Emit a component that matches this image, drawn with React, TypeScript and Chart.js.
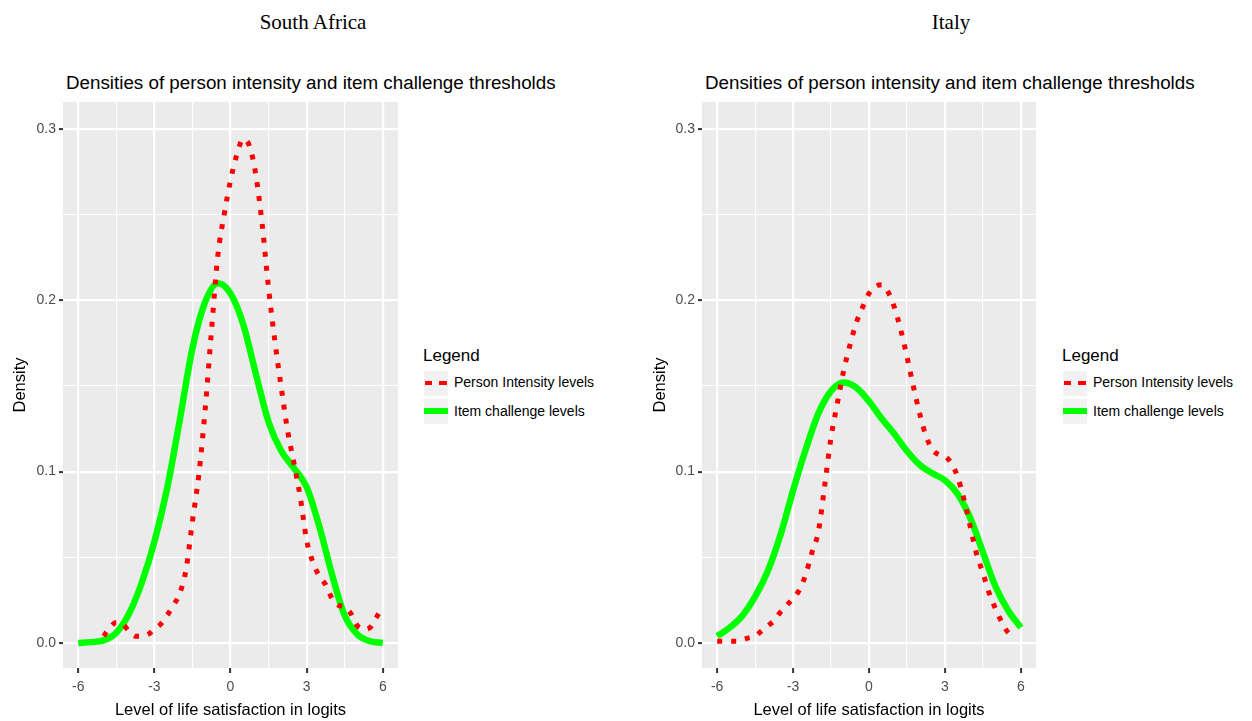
import React, { useEffect, useRef } from "react";
import { Chart, registerables } from "chart.js";

Chart.register(...registerables);

// ---------- data ----------
const xTickValues = [-6, -4.5, -3, -1.5, 0, 1.5, 3, 4.5, 6];
const yTickValues = [0, 0.05, 0.1, 0.15, 0.2, 0.25, 0.3];

const countryTitles = ["South Africa", "Italy"];
const panelTitle = "Densities of person intensity and item challenge thresholds";
const xAxisTitle = "Level of life satisfaction in logits";
const yAxisTitle = "Density";
const legendTitle = "Legend";
const seriesNames = ["Person Intensity levels", "Item challenge levels"];

// South Africa
const saItemX = [-6, -5.5, -5, -4.5, -4, -3.5, -3, -2.5, -2, -1.5, -1, -0.5, 0, 0.5, 1, 1.5, 2, 2.5, 3, 3.5, 4, 4.5, 5, 5.5, 6];
const saItemY = [0, 0.0005, 0.0015, 0.006, 0.017, 0.035, 0.059, 0.09, 0.13, 0.172, 0.199, 0.21, 0.204, 0.186, 0.157, 0.129, 0.112, 0.102, 0.091, 0.068, 0.04, 0.016, 0.005, 0.001, 0];

const saPersonX = [-5, -4.75, -4.5, -4.25, -4, -3.75, -3.5, -3.25, -3, -2.75, -2.5, -2.25, -2, -1.75, -1.5, -1.25, -1, -0.75, -0.5, -0.25, 0, 0.25, 0.5, 0.75, 1, 1.25, 1.5, 1.75, 2, 2.25, 2.5, 2.75, 3, 3.25, 3.5, 3.75, 4, 4.25, 4.5, 4.75, 5, 5.25, 5.5, 5.75, 6];
const saPersonY = [0.004, 0.009, 0.012, 0.011, 0.007, 0.004, 0.004, 0.005, 0.008, 0.011, 0.016, 0.022, 0.029, 0.043, 0.071, 0.098, 0.136, 0.182, 0.226, 0.25, 0.27, 0.285, 0.294, 0.29, 0.273, 0.244, 0.207, 0.176, 0.149, 0.124, 0.105, 0.085, 0.06, 0.047, 0.039, 0.034, 0.026, 0.022, 0.021, 0.017, 0.01, 0.008, 0.009, 0.015, 0.021];

// Italy
const itItemX = [-6, -5.5, -5, -4.5, -4, -3.5, -3, -2.5, -2, -1.5, -1, -0.5, 0, 0.5, 1, 1.5, 2, 2.5, 3, 3.5, 4, 4.5, 5, 5.5, 6];
const itItemY = [0.004, 0.009, 0.016, 0.027, 0.042, 0.063, 0.089, 0.113, 0.134, 0.147, 0.152, 0.149, 0.141, 0.131, 0.122, 0.112, 0.104, 0.099, 0.095, 0.087, 0.073, 0.053, 0.033, 0.019, 0.009];

const itPersonX = [-6, -5.75, -5.5, -5.25, -5, -4.75, -4.5, -4.25, -4, -3.75, -3.5, -3.25, -3, -2.75, -2.5, -2.25, -2, -1.75, -1.5, -1.25, -1, -0.75, -0.5, -0.25, 0, 0.25, 0.5, 0.75, 1, 1.25, 1.5, 1.75, 2, 2.25, 2.5, 2.75, 3, 3.25, 3.5, 3.75, 4, 4.25, 4.5, 4.75, 5, 5.25, 5.5, 5.75];
const itPersonY = [0.001, 0.001, 0.001, 0.001, 0.002, 0.003, 0.004, 0.007, 0.01, 0.013, 0.018, 0.022, 0.026, 0.031, 0.04, 0.053, 0.065, 0.092, 0.12, 0.14, 0.159, 0.174, 0.187, 0.196, 0.204, 0.208, 0.209, 0.205, 0.196, 0.183, 0.167, 0.15, 0.134, 0.121, 0.113, 0.11, 0.109, 0.105, 0.097, 0.084, 0.068, 0.052, 0.041, 0.029, 0.02, 0.012, 0.006, 0.003];

// ---------- styling ----------
const SANS = "'Liberation Sans', Arial, sans-serif";
const SERIF = "'Liberation Serif', 'Times New Roman', serif";
const RED = "#FF0000";
const GREEN = "#00FF00";
const PANEL_BG = "#EBEBEB";

const isMajorX = (v: number) => Math.abs(v / 3 - Math.round(v / 3)) < 1e-9;
const isMajorY = (v: number) => Math.abs(v * 10 - Math.round(v * 10)) < 1e-9;

const bgPlugin = {
  id: "panelBg",
  beforeDraw(chart: any) {
    const { ctx, chartArea } = chart;
    ctx.save();
    ctx.fillStyle = PANEL_BG;
    ctx.fillRect(chartArea.left, chartArea.top, chartArea.right - chartArea.left, chartArea.bottom - chartArea.top);
    ctx.restore();
  },
};

type PanelProps = {
  left: number;
  width: number;
  yAxisWidth: number;
  padRight: number;
  personX: number[];
  personY: number[];
  itemX: number[];
  itemY: number[];
};

function Panel(p: PanelProps) {
  const ref = useRef<HTMLCanvasElement | null>(null);
  useEffect(() => {
    if (!ref.current) return;
    const chart = new Chart(ref.current, {
      type: "line",
      data: {
        datasets: [
          {
            label: seriesNames[0],
            data: p.personX.map((x, i) => ({ x, y: p.personY[i] })),
            borderColor: RED,
            borderWidth: 5,
            borderDash: [5, 9],
            borderCapStyle: "butt",
            pointRadius: 0,
            fill: false,
            cubicInterpolationMode: "monotone",
          },
          {
            label: seriesNames[1],
            data: p.itemX.map((x, i) => ({ x, y: p.itemY[i] })),
            borderColor: GREEN,
            borderWidth: 6.5,
            pointRadius: 0,
            fill: false,
            cubicInterpolationMode: "monotone",
          },
        ],
      },
      options: {
        responsive: false,
        animation: false,
        events: [],
        layout: { padding: { top: 102, right: p.padRight, left: 0, bottom: 0 } },
        plugins: {
          legend: { display: false },
          title: { display: false },
          tooltip: { enabled: false },
        },
        scales: {
          x: {
            type: "linear",
            min: -6.6,
            max: 6.6,
            afterBuildTicks: (s: any) => {
              s.ticks = xTickValues.map((v) => ({ value: v }));
            },
            afterFit: (s: any) => {
              s.height = 53;
            },
            ticks: {
              autoSkip: false,
              maxRotation: 0,
              padding: 6,
              color: "#4D4D4D",
              font: { family: SANS, size: 14 },
              callback: (v: any) => (isMajorX(Number(v)) ? String(v) : ""),
            },
            grid: {
              color: "#FFFFFF",
              lineWidth: (c: any) => (c.tick && isMajorX(c.tick.value) ? 2.2 : 1.1),
              tickColor: (c: any) => (c.tick && isMajorX(c.tick.value) ? "#333333" : "rgba(0,0,0,0)"),
              tickLength: 5,
              tickWidth: 2,
            },
            border: { display: false },
            title: {
              display: true,
              text: xAxisTitle,
              color: "#000000",
              font: { family: SANS, size: 16.5 },
              padding: { top: 0, bottom: 1 },
            },
          },
          y: {
            type: "linear",
            min: -0.0146,
            max: 0.3157,
            afterBuildTicks: (s: any) => {
              s.ticks = yTickValues.map((v) => ({ value: v }));
            },
            afterFit: (s: any) => {
              s.width = p.yAxisWidth;
            },
            ticks: {
              autoSkip: false,
              padding: 3,
              color: "#4D4D4D",
              font: { family: SANS, size: 14 },
              callback: (v: any) => (isMajorY(Number(v)) ? Number(v).toFixed(1) : ""),
            },
            grid: {
              color: "#FFFFFF",
              lineWidth: (c: any) => (c.tick && isMajorY(c.tick.value) ? 2.2 : 1.1),
              tickColor: (c: any) => (c.tick && isMajorY(c.tick.value) ? "#333333" : "rgba(0,0,0,0)"),
              tickLength: 4,
              tickWidth: 2,
            },
            border: { display: false },
            title: {
              display: true,
              text: yAxisTitle,
              color: "#000000",
              font: { family: SANS, size: 16.5 },
              padding: { top: 11, bottom: 0 },
            },
          },
        },
      } as any,
      plugins: [bgPlugin],
    });
    return () => chart.destroy();
  }, []);
  return (
    <canvas
      ref={ref}
      width={p.width}
      height={721}
      style={{ position: "absolute", left: p.left, top: 0, width: p.width, height: 721 }}
    />
  );
}

function Legend({ left }: { left: number }) {
  const keyBox: React.CSSProperties = {
    position: "absolute",
    left: 0,
    width: 24,
    height: 25,
    background: "#F2F2F2",
  };
  const text: React.CSSProperties = {
    position: "absolute",
    left: 30,
    fontSize: 14,
    lineHeight: "18px",
    whiteSpace: "nowrap",
    color: "#000",
  };
  return (
    <div style={{ position: "absolute", left, top: 346, width: 200, height: 90, fontFamily: SANS }}>
      <div style={{ position: "absolute", left: -1, top: 0, fontSize: 17, lineHeight: "20px", whiteSpace: "nowrap" }}>
        {legendTitle}
      </div>
      <div style={{ ...keyBox, top: 25 }}>
        <div style={{ position: "absolute", left: 1, top: 10, width: 7, height: 4, background: RED }} />
        <div style={{ position: "absolute", left: 15, top: 10, width: 8, height: 4, background: RED }} />
      </div>
      <div style={{ ...text, top: 27 }}>{seriesNames[0]}</div>
      <div style={{ ...keyBox, top: 53 }}>
        <div style={{ position: "absolute", left: 0, top: 9, width: 24, height: 6, background: GREEN }} />
      </div>
      <div style={{ ...text, top: 56 }}>{seriesNames[1]}</div>
    </div>
  );
}

export default function App() {
  const headStyle: React.CSSProperties = {
    position: "absolute",
    top: 9,
    width: 300,
    textAlign: "center",
    fontFamily: SERIF,
    fontSize: 21,
    lineHeight: "26px",
    color: "#000",
  };
  const titleStyle: React.CSSProperties = {
    position: "absolute",
    top: 71,
    fontFamily: SANS,
    fontSize: 18.8,
    lineHeight: "24px",
    whiteSpace: "nowrap",
    color: "#000",
  };
  return (
    <div style={{ position: "absolute", left: 0, top: 0, width: 1252, height: 721, background: "#fff", overflow: "hidden" }}>
      <div style={{ ...headStyle, left: 163 }}>{countryTitles[0]}</div>
      <div style={{ ...headStyle, left: 801 }}>{countryTitles[1]}</div>
      <div style={{ ...titleStyle, left: 66 }}>{panelTitle}</div>
      <div style={{ ...titleStyle, left: 705 }}>{panelTitle}</div>
      <Panel left={0} width={400} yAxisWidth={63} padRight={2} personX={saPersonX} personY={saPersonY} itemX={saItemX} itemY={saItemY} />
      <Panel left={640} width={400} yAxisWidth={62} padRight={4} personX={itPersonX} personY={itPersonY} itemX={itItemX} itemY={itItemY} />
      <Legend left={424} />
      <Legend left={1063} />
    </div>
  );
}
